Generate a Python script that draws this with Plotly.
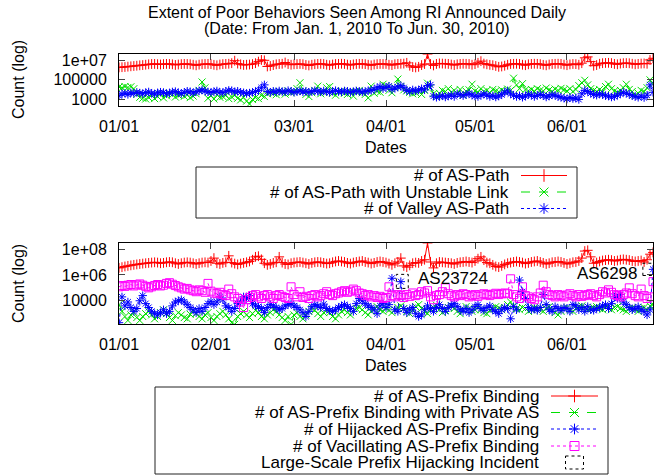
import numpy as np
import pandas as pd
import plotly.graph_objects as go

# ---------------- data (daily, 2010-01-01 .. 2010-06-30) ----------------
START_DATE = "2010-01-01"

AS_PATH = [
    2.0e6, 2.1e6, 2.2e6, 2.4e6, 2.6e6, 2.8e6, 3.0e6, 3.3e6, 3.5e6, 3.8e6,
    4.2e6, 4.5e6, 4.6e6, 4.3e6, 4.0e6, 4.4e6, 4.6e6, 4.5e6, 4.2e6, 3.6e6,
    4.0e6, 4.4e6, 4.6e6, 4.5e6, 4.3e6, 3.8e6, 3.3e6, 3.9e6, 4.3e6, 4.5e6,
    4.6e6, 4.4e6, 3.7e6, 3.3e6, 4.0e6, 4.4e6, 4.6e6, 4.8e6, 5.5e6, 1.0e7,
    5.0e6, 4.2e6, 3.6e6, 3.8e6, 4.0e6, 4.4e6, 5.5e6, 8.0e6, 1.2e7, 1.1e7,
    2.5e6, 2.8e6, 3.5e6, 4.2e6, 4.5e6, 4.8e6, 6.5e6, 4.5e6, 3.8e6, 4.2e6,
    4.4e6, 4.6e6, 4.3e6, 3.6e6, 3.2e6, 3.8e6, 4.3e6, 4.6e6, 4.7e6, 4.5e6,
    3.8e6, 3.4e6, 4.0e6, 4.5e6, 4.6e6, 4.8e6, 4.6e6, 3.9e6, 3.5e6, 4.1e6,
    4.5e6, 4.7e6, 4.6e6, 4.4e6, 3.8e6, 3.3e6, 4.0e6, 4.4e6, 4.6e6, 4.5e6,
    4.6e6, 3.8e6, 3.5e6, 4.3e6, 4.6e6, 4.8e6, 5.0e6, 6.0e6, 3.0e6, 2.2e6,
    2.0e6, 2.3e6, 3.5e6, 4.5e6, 5.0e7, 4.5e6, 3.2e6, 4.6e6, 5.2e6, 5.0e6,
    4.8e6, 4.6e6, 4.0e6, 3.5e6, 4.2e6, 4.6e6, 4.8e6, 4.7e6, 4.5e6, 3.8e6,
    4.4e6, 6.0e6, 9.0e6, 5.0e6, 4.2e6, 3.7e6, 3.4e6, 2.8e6, 2.3e6, 2.5e6,
    3.0e6, 3.8e6, 4.5e6, 4.7e6, 4.8e6, 4.5e6, 3.8e6, 3.4e6, 4.2e6, 4.6e6,
    4.8e6, 4.7e6, 4.4e6, 3.7e6, 3.3e6, 4.0e6, 4.5e6, 4.7e6, 4.8e6, 4.6e6,
    3.9e6, 3.4e6, 4.1e6, 4.5e6, 4.4e6, 3.8e6, 5.5e6, 2.0e7, 2.5e7, 8.0e6,
    3.0e6, 3.5e6, 4.8e6, 5.5e6, 5.8e6, 6.0e6, 5.6e6, 4.6e6, 4.2e6, 5.0e6,
    5.5e6, 5.6e6, 5.4e6, 4.8e6, 4.2e6, 4.6e6, 5.0e6, 5.2e6, 4.8e6, 1.2e7,
    1.8e7,
]

AS_PATH_UNSTABLE = [
    1.8e4, 1.5e4, 2.0e4, 1.6e4, 1.9e4, 1.2e4, 3.0e3, 1.5e3, 1.2e3, 1.0e3,
    1.4e3, 2.5e3, 1.1e3, 1.8e3, 3.5e3, 1.3e3, 2.2e3, 4.0e3, 2.8e3, 1.6e3,
    2.4e3, 3.2e3, 1.9e3, 2.6e3, 1.4e3, 2.0e3, 3.5e3, 8.0e3, 6.0e4, 1.5e4,
    1.2e3, 2.2e3, 1.0e3, 2.8e3, 1.5e3, 1.8e3, 2.4e3, 1.1e3, 1.6e3, 2.5e3,
    1.2e3, 8.0e2, 1.5e3, 6.0e2, 3.0e2, 9.0e2, 1.4e3, 1.1e3, 2.5e3, 1.8e3,
    3.5e3, 5.5e3, 4.0e3, 2.8e3, 6.5e3, 5.0e3, 3.2e3, 7.0e3, 4.5e3, 6.0e3,
    1.2e4, 5.0e4, 6.5e3, 3.0e3, 1.8e3, 4.5e3, 8.0e3, 2.2e4, 3.5e3, 5.0e3,
    1.5e4, 2.0e4, 4.0e3, 2.5e3, 5.5e3, 7.0e3, 4.0e3, 3.0e3, 6.0e3, 2.0e3,
    5.5e3, 8.0e3, 4.5e3, 3.0e3, 1.3e3, 2.2e4, 4.0e3, 6.5e3, 5.0e3, 3.5e4,
    2.5e4, 8.0e3, 4.5e3, 1.5e4, 1.2e5, 2.0e4, 9.0e3, 7.0e3, 5.0e3, 3.5e3,
    4.5e3, 6.0e3, 3.0e3, 8.0e3, 4.5e4, 1.5e4, 3.5e3, 2.0e3, 4.0e3, 8.0e3,
    6.0e3, 1.2e4, 5.0e3, 8.0e3, 4.0e3, 1.0e4, 2.5e3, 6.5e3, 9.0e3, 3.5e4,
    7.0e3, 5.0e3, 1.2e4, 6.0e3, 8.0e3, 4.5e3, 1.0e4, 7.0e3, 5.5e3, 9.0e3,
    6.0e3, 1.1e4, 8.0e3, 1.5e5, 3.0e4, 1.2e4, 4.0e4, 9.0e3, 7.0e3, 1.0e4,
    6.5e3, 1.2e4, 8.5e3, 7.0e3, 1.4e4, 9.0e3, 6.0e3, 1.1e4, 8.0e3, 1.3e4,
    9.5e3, 7.0e3, 1.2e4, 6.0e3, 1.0e4, 2.5e4, 5.0e4, 9.0e4, 3.0e4, 1.2e4,
    8.0e3, 6.0e3, 1.0e4, 5.5e3, 2.0e4, 3.5e4, 1.2e4, 7.0e3, 5.0e3, 8.0e3,
    1.5e4, 3.5e4, 1.0e4, 6.0e3, 2.5e3, 4.0e3, 8.0e3, 6.0e3, 1.5e4, 1.0e5,
    4.0e4,
]

AS_PATH_VALLEY = [
    2.2e3, 3.5e3, 4.0e3, 3.0e3, 4.5e3, 3.8e3, 5.0e3, 4.2e3, 3.5e3, 4.8e3,
    5.5e3, 4.0e3, 3.2e3, 4.5e3, 5.2e3, 4.8e3, 3.6e3, 4.2e3, 5.5e3, 6.0e3,
    4.5e3, 3.8e3, 5.0e3, 6.5e3, 5.8e3, 4.2e3, 6.0e3, 7.0e3, 9.0e3, 6.5e3,
    5.5e3, 4.8e3, 6.0e3, 7.0e3, 5.0e3, 4.5e3, 6.5e3, 8.0e3, 7.5e3, 5.5e3,
    6.5e3, 5.0e3, 4.5e3, 3.8e3, 4.2e3, 5.0e3, 6.0e3, 8.0e3, 1.5e4, 3.0e4,
    6.0e3, 5.0e3, 6.5e3, 5.5e3, 7.0e3, 6.0e3, 5.5e3, 7.5e3, 6.5e3, 5.0e3,
    6.0e3, 7.0e3, 5.5e3, 6.5e3, 5.0e3, 6.0e3, 7.5e3, 6.5e3, 5.5e3, 7.0e3,
    6.0e3, 5.0e3, 6.5e3, 7.5e3, 6.0e3, 5.5e3, 7.0e3, 6.5e3, 5.0e3, 6.0e3,
    7.0e3, 6.5e3, 5.5e3, 6.0e3, 7.5e3, 8.0e3, 1.0e4, 1.5e4, 2.0e4, 1.2e4,
    1.6e4, 2.2e4, 1.0e4, 1.4e4, 1.8e4, 2.5e4, 1.5e4, 8.0e3, 6.0e3, 9.0e3,
    7.0e3, 8.5e3, 1.2e4, 9.0e3, 2.5e4, 3.0e4, 2.0e3, 1.5e3, 1.8e3, 2.2e3,
    1.6e3, 2.0e3, 2.5e3, 1.8e3, 3.5e3, 2.8e3, 2.2e3, 3.0e3, 4.0e3, 2.5e3,
    2.0e3, 1.8e3, 2.5e3, 3.2e3, 2.6e3, 1.8e3, 2.2e3, 1.6e3, 2.0e3, 2.8e3,
    5.0e3, 7.0e3, 3.5e3, 2.5e3, 1.8e3, 2.2e3, 1.5e3, 2.0e3, 3.0e3, 2.5e3,
    1.8e3, 2.4e3, 3.0e3, 2.2e3, 1.6e3, 2.0e3, 2.8e3, 2.4e3, 1.8e3, 1.5e3,
    1.2e3, 1.0e3, 1.4e3, 1.1e3, 1.3e3, 9.0e2, 3.5e3, 8.0e3, 6.0e3, 4.0e3,
    3.0e3, 2.5e3, 3.5e3, 2.8e3, 2.2e3, 2.0e3, 1.6e3, 1.8e3, 2.5e3, 3.5e3,
    5.0e3, 4.0e3, 3.0e3, 2.2e3, 1.8e3, 1.5e3, 2.0e3, 1.4e3, 2.5e3, 3.0e4,
    5.0e3,
]

PREFIX_BINDING = [
    3.5e6, 4.0e6, 4.5e6, 5.0e6, 5.5e6, 6.0e6, 6.5e6, 7.0e6, 7.5e6, 8.0e6,
    8.5e6, 9.0e6, 9.5e6, 9.0e6, 8.0e6, 8.5e6, 9.5e6, 1.0e7, 9.5e6, 8.0e6,
    7.0e6, 8.0e6, 9.0e6, 9.5e6, 9.0e6, 8.0e6, 7.0e6, 8.0e6, 9.0e6, 9.5e6,
    9.0e6, 1.2e7, 2.0e7, 8.0e6, 7.0e6, 8.5e6, 9.5e6, 3.0e7, 9.0e6, 7.5e6,
    6.5e6, 7.5e6, 8.5e6, 9.5e6, 1.1e7, 1.5e7, 2.5e7, 2.8e7, 1.6e7, 8.0e6,
    6.0e6, 7.0e6, 8.5e6, 9.5e6, 2.5e7, 9.0e6, 7.0e6, 6.5e6, 8.0e6, 9.0e6,
    9.5e6, 1.0e7, 9.0e6, 8.0e6, 7.0e6, 8.5e6, 9.5e6, 1.0e7, 9.5e6, 8.5e6,
    7.5e6, 8.0e6, 9.5e6, 1.1e7, 1.2e7, 1.1e7, 1.0e7, 8.5e6, 7.5e6, 9.0e6,
    1.0e7, 1.1e7, 1.2e7, 1.0e7, 9.0e6, 7.5e6, 8.5e6, 1.0e7, 1.1e7, 1.0e7,
    9.0e6, 7.5e6, 6.0e6, 8.0e6, 1.0e7, 2.0e7, 5.0e6, 4.0e6, 5.5e6, 8.0e6,
    9.0e6, 8.5e6, 1.2e7, 1.5e7, 3.0e8, 1.0e7, 3.5e6, 8.0e6, 1.0e7, 9.5e6,
    9.0e6, 8.5e6, 8.0e6, 7.0e6, 8.5e6, 9.5e6, 1.0e7, 1.1e7, 1.0e7, 9.0e6,
    1.2e7, 1.8e7, 2.5e7, 1.4e7, 9.0e6, 8.0e6, 6.0e6, 4.5e6, 4.0e6, 5.0e6,
    6.5e6, 8.0e6, 9.0e6, 1.0e7, 1.1e7, 1.0e7, 9.0e6, 7.5e6, 8.5e6, 1.0e7,
    1.1e7, 1.2e7, 1.0e7, 8.5e6, 7.0e6, 8.0e6, 9.5e6, 1.0e7, 1.1e7, 1.0e7,
    8.5e6, 7.0e6, 8.0e6, 9.5e6, 1.0e7, 1.2e7, 2.0e7, 7.0e7, 8.0e7, 2.5e7,
    8.0e6, 9.0e6, 1.1e7, 1.3e7, 1.4e7, 1.5e7, 1.4e7, 1.2e7, 1.3e7, 1.5e7,
    1.6e7, 1.5e7, 1.4e7, 1.2e7, 1.1e7, 1.2e7, 1.3e7, 1.0e7, 1.5e7, 4.0e7,
    5.5e7,
]

PREFIX_PRIVATE = [
    5.0e3, 1.5e3, 6.0e2, 3.0e2, 8.0e2, 1.2e3, 5.0e2, 3.0e2, 6.0e2, 1.0e3,
    1.5e3, 8.0e2, 4.0e2, 6.0e2, 1.2e3, 2.0e3, 1.0e3, 5.0e2, 3.0e2, 7.0e2,
    1.2e3, 8.0e2, 5.0e2, 4.0e2, 9.0e2, 1.5e3, 1.0e3, 6.0e2, 4.0e2, 8.0e2,
    1.2e3, 5.0e2, 3.0e2, 6.0e2, 1.0e3, 1.5e3, 8.0e2, 4.0e2, 2.0e2, 1.5e2,
    6.0e2, 1.0e3, 1.5e3, 8.0e2, 5.0e2, 1.0e3, 1.8e3, 1.2e3, 6.0e2, 4.0e2,
    8.0e2, 1.2e3, 2.0e3, 1.5e3, 8.0e2, 5.0e2, 3.0e2, 6.0e2, 1.5e2, 8.0e2,
    1.2e3, 6.0e2, 4.0e2, 8.0e2, 1.5e3, 2.5e3, 1.8e3, 1.0e3, 6.0e2, 1.2e3,
    1.8e3, 1.2e3, 6.0e2, 4.0e2, 8.0e2, 1.5e3, 2.0e3, 1.2e3, 8.0e2, 1.5e3,
    2.5e3, 3.0e3, 2.0e3, 1.2e3, 8.0e2, 1.5e3, 2.5e3, 3.5e3, 2.0e3, 1.5e3,
    2.5e3, 1.8e3, 1.2e3, 2.0e3, 3.0e3, 4.0e3, 2.5e3, 1.5e3, 1.0e3, 2.0e3,
    3.5e3, 5.0e3, 2.5e3, 1.5e3, 1.0e3, 2.0e3, 3.0e3, 4.5e3, 2.0e3, 1.2e3,
    1.8e3, 3.0e3, 4.0e3, 2.5e3, 1.5e3, 1.0e3, 2.0e3, 3.5e3, 2.5e3, 1.5e3,
    2.0e3, 3.0e3, 2.0e3, 1.2e3, 1.0e3, 1.8e3, 2.5e3, 3.5e3, 2.8e3, 2.0e3,
    3.0e3, 5.0e3, 8.0e3, 4.0e3, 2.5e3, 2.0e3, 3.0e3, 2.5e3, 1.5e3, 2.0e3,
    3.0e3, 2.5e3, 2.0e3, 1.5e3, 2.5e3, 3.5e3, 2.0e3, 1.2e3, 8.0e2, 1.5e3,
    2.5e3, 3.0e3, 2.0e3, 1.5e3, 2.5e3, 3.5e3, 4.0e3, 3.0e3, 2.0e3, 2.5e3,
    3.0e3, 3.5e3, 2.5e3, 2.0e3, 3.0e3, 2.5e3, 2.0e3, 3.0e3, 3.5e3, 2.5e3,
    2.0e3, 1.5e3, 2.5e3, 3.0e3, 2.0e3, 1.5e3, 2.5e3, 3.0e3, 2.0e3, 4.0e3,
    5.0e3,
]

PREFIX_HIJACKED = [
    2.0e2, 2.0e4, 4.0e3, 8.0e3, 3.0e3, 1.5e3, 2.5e3, 1.0e4, 2.5e4, 6.0e3,
    3.0e3, 1.5e3, 1.0e3, 8.0e2, 1.2e3, 2.0e3, 1.0e3, 1.5e3, 4.0e3, 8.0e3,
    1.0e4, 1.2e4, 8.0e3, 5.0e3, 3.0e3, 2.0e3, 1.2e3, 2.5e3, 1.5e3, 3.0e3,
    6.0e3, 9.0e3, 5.0e3, 8.0e3, 2.0e4, 1.2e4, 4.0e3, 3.0e3, 1.5e3, 2.5e3,
    6.0e3, 8.0e3, 2.0e4, 1.5e4, 2.5e4, 6.0e3, 4.0e3, 3.5e3, 2.5e3, 1.2e3,
    3.0e3, 5.0e3, 4.0e3, 3.0e3, 2.0e3, 2.5e3, 4.0e3, 5.0e3, 6.0e3, 4.0e3,
    3.0e3, 2.0e3, 1.2e3, 6.0e2, 1.5e3, 3.5e3, 5.0e3, 4.0e3, 3.0e3, 5.5e3,
    2.5e3, 1.8e3, 1.5e3, 2.0e3, 3.0e3, 4.0e3, 5.0e3, 3.5e3, 2.5e3, 1.5e3,
    6.0e3, 1.5e4, 1.0e4, 6.0e3, 4.0e3, 3.0e3, 2.0e3, 1.0e3, 4.0e3, 6.0e3,
    3.0e3, 5.0e3, 5.5e5, 2.0e3, 1.5e3, 3.0e5, 2.5e3, 1.2e3, 2.0e3, 3.0e3,
    1.0e3, 6.0e2, 8.0e2, 2.0e3, 4.0e3, 2.5e3, 1.5e3, 3.0e3, 5.0e3, 2.5e3,
    1.5e3, 3.0e3, 4.5e3, 6.0e3, 3.5e3, 2.0e3, 1.5e3, 2.5e3, 1.2e3, 2.0e3,
    3.5e3, 5.0e3, 2.5e3, 1.8e3, 3.0e3, 4.0e3, 2.0e3, 1.5e3, 1.0e3, 2.0e3,
    3.0e3, 2.5e3, 4.0e2, 3.5e3, 2.0e3, 4.0e5, 5.0e4, 1.5e4, 3.0e3, 2.0e3,
    2.5e3, 1.8e3, 3.0e3, 3.0e4, 5.0e3, 2.0e3, 1.5e3, 3.5e3, 2.5e3, 1.8e3,
    3.0e3, 2.5e3, 1.5e3, 5.0e3, 4.0e3, 2.0e3, 3.0e3, 1.5e3, 3.5e3, 2.0e3,
    1.8e3, 2.5e3, 3.0e3, 4.0e3, 5.0e3, 2.5e3, 6.0e3, 2.0e4, 1.5e4, 3.0e4,
    8.0e3, 5.0e3, 3.0e3, 2.0e3, 2.5e3, 3.5e3, 2.0e3, 1.5e3, 8.0e2, 2.0e3,
    2.7e6,
]

PREFIX_VACILLATING = [
    1.2e5, 1.5e5, 1.3e5, 1.6e5, 1.8e5, 1.4e5, 1.7e5, 2.0e5, 1.6e5, 1.3e5,
    1.0e5, 1.2e5, 1.5e5, 1.8e5, 1.4e5, 1.6e5, 2.2e5, 2.5e5, 1.9e5, 1.5e5,
    1.2e5, 1.0e5, 8.0e4, 9.0e4, 7.0e4, 6.0e4, 5.0e4, 7.0e4, 6.0e4, 4.5e4,
    2.2e5, 5.5e4, 4.0e4, 3.5e4, 4.5e4, 3.0e4, 2.5e4, 8.0e4, 3.5e4, 2.0e4,
    1.5e4, 8.0e3, 3.0e3, 1.2e4, 1.8e4, 2.5e4, 3.0e4, 2.0e4, 1.5e4, 2.5e4,
    3.0e4, 2.0e4, 1.5e4, 2.5e4, 3.0e4, 2.2e4, 1.8e4, 1.5e4, 1.2e5, 3.0e4,
    2.0e4, 5.0e4, 1.8e4, 2.2e4, 1.5e4, 2.5e4, 3.0e4, 2.0e4, 2.5e4, 3.5e4,
    5.0e4, 3.0e4, 2.5e4, 3.5e4, 4.0e4, 5.0e4, 6.0e4, 4.5e4, 5.5e4, 8.0e4,
    6.0e4, 4.0e4, 3.5e4, 2.5e4, 3.0e4, 2.0e4, 2.5e4, 1.8e4, 2.2e4, 1.5e4,
    1.8e4, 1.2e5, 2.5e4, 2.0e4, 3.0e4, 2.5e4, 1.8e4, 3.0e4, 2.2e4, 4.0e4,
    2.5e4, 3.0e4, 5.0e4, 4.0e4, 6.0e4, 2.0e4, 1.2e4, 2.5e4, 3.0e4, 5.0e4,
    1.0e5, 3.5e4, 2.5e4, 2.0e4, 3.0e4, 2.5e4, 3.5e4, 3.0e4, 2.0e4, 2.5e4,
    3.0e4, 2.2e4, 2.8e4, 3.5e4, 3.0e4, 2.5e4, 3.2e4, 3.8e4, 3.0e4, 3.5e4,
    4.0e4, 3.5e4, 5.0e5, 3.0e4, 2.0e4, 1.5e4, 1.2e5, 2.5e4, 2.0e4, 1.5e4,
    1.2e4, 2.0e4, 4.0e4, 1.6e5, 5.0e4, 3.0e4, 2.5e4, 2.0e4, 3.0e4, 2.5e4,
    2.0e4, 2.8e4, 3.5e4, 2.5e4, 2.0e4, 3.0e4, 2.2e4, 2.5e4, 3.0e4, 3.5e4,
    2.5e4, 2.0e4, 3.0e4, 5.0e4, 4.0e4, 7.0e4, 4.5e4, 3.0e4, 2.5e4, 2.0e4,
    3.0e4, 4.0e4, 1.0e5, 3.5e4, 2.5e4, 2.0e4, 8.0e4, 2.5e4, 1.5e4, 2.0e4,
    3.0e5,
]

# large-scale prefix hijacking incidents (date span, count span, label)
INCIDENT_LABELS = ["AS23724", "AS6298"]
INCIDENT_X0 = ["2010-04-04 12:00", "2010-06-26 14:00"]
INCIDENT_X1 = ["2010-04-08 12:00", "2010-07-01 00:00"]
INCIDENT_LOW = [9.0e4, 9.0e5]
INCIDENT_HIGH = [1.1e6, 8.0e6]
INCIDENT_LABEL_X = ["2010-04-11", "2010-06-25 12:00"]
INCIDENT_LABEL_Y = [5.3e5, 1.3e6]

TICK_DATES = ["2010-01-01", "2010-02-01", "2010-03-01", "2010-04-01", "2010-05-01", "2010-06-01"]
TICK_LABELS = ["01/01", "02/01", "03/01", "04/01", "05/01", "06/01"]
TOP_Y_TICKS = [1e3, 1e5, 1e7]
TOP_Y_LABELS = ["1000", "100000", "1e+07"]
BOT_Y_TICKS = [1e4, 1e6, 1e8]
BOT_Y_LABELS = ["10000", "1e+06", "1e+08"]

TITLE_LINES = ["Extent of Poor Behaviors Seen Among RI Announced Daily",
               "(Date: From Jan. 1, 2010 To Jun. 30, 2010)"]
TOP_NAMES = ["# of AS-Path", "# of AS-Path with Unstable Link", "# of Valley AS-Path"]
BOT_NAMES = ["# of AS-Prefix Binding", "# of AS-Prefix Binding with Private AS",
             "# of Hijacked AS-Prefix Binding", "# of Vacillating AS-Prefix Binding",
             "Large-Scale Prefix Hijacking Incident"]

# ---------------- styles ----------------
W, H = 670, 476
FONT = "Liberation Sans, Arial, Helvetica, sans-serif"
FS_TICK = 16
FS_LEG = 17
FS_TITLE = 16
RED, GREEN, BLUE, MAG = "#ff0000", "#00e000", "#0000ff", "#ff00ff"
STY = {
    "red": dict(color=RED, dash="solid", symbol="cross-thin-open"),
    "green": dict(color=GREEN, dash="dash", symbol="x-thin-open"),
    "blue": dict(color=BLUE, dash="dot", symbol="asterisk-open"),
    "mag": dict(color=MAG, dash="dot", symbol="square-open"),
}


def dates_for(values):
    return pd.date_range(START_DATE, periods=len(values), freq="D")


def series(values, sty, xa, ya, size=7):
    s = STY[sty]
    return go.Scatter(
        x=dates_for(values), y=values, xaxis=xa, yaxis=ya, mode="lines+markers",
        line=dict(color=s["color"], width=1, dash=s["dash"]),
        marker=dict(symbol=s["symbol"], size=size, color=s["color"],
                    line=dict(color=s["color"], width=1)),
        showlegend=False, hoverinfo="skip",
    )


fig = go.Figure()
# top panel
fig.add_trace(series(AS_PATH, "red", "x", "y"))
fig.add_trace(series(AS_PATH_UNSTABLE, "green", "x", "y"))
fig.add_trace(series(AS_PATH_VALLEY, "blue", "x", "y"))
# bottom panel
fig.add_trace(series(PREFIX_BINDING, "red", "x2", "y2"))
fig.add_trace(series(PREFIX_PRIVATE, "green", "x2", "y2"))
fig.add_trace(series(PREFIX_HIJACKED, "blue", "x2", "y2"))
fig.add_trace(series(PREFIX_VACILLATING, "mag", "x2", "y2", size=8))

# incident boxes + labels
shapes = []
annotations = []
for x0, x1, lo, hi in zip(INCIDENT_X0, INCIDENT_X1, INCIDENT_LOW, INCIDENT_HIGH):
    shapes.append(dict(type="rect", xref="x2", yref="y2", x0=x0, x1=x1, y0=lo, y1=hi,
                       line=dict(color="black", width=1, dash="dot")))
for lab, lx, ly, anc in zip(INCIDENT_LABELS, INCIDENT_LABEL_X, INCIDENT_LABEL_Y, ["left", "right"]):
    annotations.append(dict(text=lab, xref="x2", yref="y2", x=lx, y=float(np.log10(ly)),
                            xanchor=anc, yanchor="middle", showarrow=False,
                            font=dict(family=FONT, size=FS_LEG, color="black")))

# ---------------- pixel overlay for legends, titles ----------------
def px_text(text, x, y, xanchor="center", angle=0, size=FS_LEG):
    annotations.append(dict(text=text, xref="x3", yref="y3", x=x, y=y, xanchor=xanchor,
                            yanchor="middle", showarrow=False, textangle=angle,
                            font=dict(family=FONT, size=size, color="black")))

px_text(TITLE_LINES[0], 357, 12, size=FS_TITLE)
px_text(TITLE_LINES[1], 357, 28, size=FS_TITLE)
px_text("Dates", 386, 147, size=FS_TICK)
px_text("Dates", 386, 365, size=FS_TICK)
px_text("Count (log)", 18, 80, angle=-90, size=FS_TICK)
px_text("Count (log)", 18, 284, angle=-90, size=FS_TICK)


def legend_block(names, styles, box, rows, text_right, line_x0, line_x1):
    shapes.append(dict(type="rect", xref="x3", yref="y3", x0=box[0], y0=box[1], x1=box[2], y1=box[3],
                       line=dict(color="#222222", width=1)))
    for name, sty, ry in zip(names, styles, rows):
        px_text(name, text_right, ry, xanchor="right")
        mid = (line_x0 + line_x1) / 2
        if sty == "box":
            shapes.append(dict(type="rect", xref="x3", yref="y3", x0=mid - 9, x1=mid + 9,
                               y0=ry - 6.5, y1=ry + 6.5, line=dict(color="black", width=1, dash="dot")))
            continue
        s = STY[sty]
        fig.add_trace(go.Scatter(x=[line_x0, line_x1], y=[ry, ry], xaxis="x3", yaxis="y3", mode="lines",
                                 line=dict(color=s["color"], width=1, dash=s["dash"]),
                                 showlegend=False, hoverinfo="skip"))
        fig.add_trace(go.Scatter(x=[mid], y=[ry], xaxis="x3", yaxis="y3", mode="markers",
                                 marker=dict(symbol=s["symbol"], size=9, color=s["color"],
                                             line=dict(color=s["color"], width=1)),
                                 showlegend=False, hoverinfo="skip"))


legend_block(TOP_NAMES, ["red", "green", "blue"], (196, 167, 577, 218), [175.5, 192, 208.5], 511, 521, 567)
legend_block(BOT_NAMES, ["red", "green", "blue", "mag", "box"], (155, 387, 608, 474),
             [396, 412.5, 429, 446, 462.5], 541, 551, 598)

X_DOM = [119 / W, 653 / W]
xcommon = dict(domain=X_DOM, range=["2010-01-01", "2010-06-30"], tickvals=TICK_DATES, ticktext=TICK_LABELS,
               ticks="inside", ticklen=6, mirror="ticks", showline=True, linecolor="black", linewidth=1,
               showgrid=False, zeroline=False, tickfont=dict(family=FONT, size=FS_TICK, color="black"),
               ticklabelstandoff=6, fixedrange=True, automargin=False)
ycommon = dict(type="log", ticks="inside", ticklen=6, mirror="ticks", showline=True, linecolor="black",
               linewidth=1, showgrid=False, zeroline=False, automargin=False,
               tickfont=dict(family=FONT, size=FS_TICK, color="black"), ticklabelstandoff=8, fixedrange=True)

fig.update_layout(
    template="none",
    width=W, height=H, margin=dict(l=0, r=0, t=0, b=0, pad=0),
    paper_bgcolor="white", plot_bgcolor="rgba(0,0,0,0)",
    showlegend=False,
    xaxis=dict(anchor="y", **xcommon),
    yaxis=dict(anchor="x", domain=[1 - 106 / H, 1 - 54 / H], range=[2.27, 7.7],
               tickvals=TOP_Y_TICKS, ticktext=TOP_Y_LABELS, **ycommon),
    xaxis2=dict(anchor="y2", **xcommon),
    yaxis2=dict(anchor="x2", domain=[1 - 324 / H, 1 - 243 / H], range=[2.2, 8.47],
                tickvals=BOT_Y_TICKS, ticktext=BOT_Y_LABELS, **ycommon),
    xaxis3=dict(anchor="y3", domain=[0, 1], range=[0, W], visible=False, fixedrange=True, automargin=False),
    yaxis3=dict(anchor="x3", domain=[0, 1], range=[H, 0], visible=False, fixedrange=True, automargin=False),
    shapes=shapes, annotations=annotations,
)

# the page body has a default 8px margin; remove it so the figure sits at the window origin
fig.write_html("out.html", config={"displayModeBar": False},
               post_script="document.body.style.margin='0';document.body.style.padding='0';")
